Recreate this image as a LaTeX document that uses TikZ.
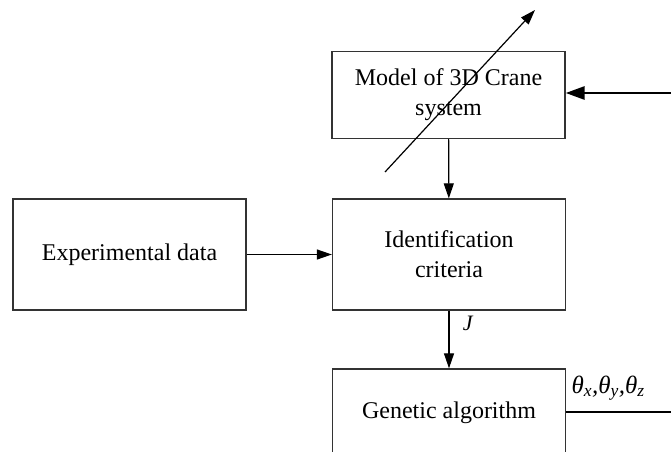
\documentclass[tikz,border=0pt]{standalone}
\usepackage{fontspec}
\setmainfont{Liberation Serif}
\usepackage{tikz}
\usetikzlibrary{arrows.meta,positioning}

\begin{document}
\begin{tikzpicture}[x=1pt,y=1pt,
  block/.style={draw=black!80,line width=1.3pt,minimum width=233pt,align=center,
    font=\fontsize{24}{30}\selectfont,inner sep=0pt},
  link/.style={line width=1.2pt,-{Triangle[length=15pt,width=10pt]}},
  feed/.style={line width=2.8pt,-{Triangle[length=19pt,width=13pt]}}]
\clip (0,0) rectangle (671,451);
\node[block,minimum height=87pt] (model) at (448.5,356) {Model of 3D Crane\\system};
\node[block,minimum height=111pt] (ident) at (449,196.5) {Identification\\criteria};
\node[block,minimum height=111pt] (expdata) at (129.5,196.5) {Experimental data};
\node[block,minimum height=88pt] (genetic) at (449,38) {Genetic algorithm};
\coordinate (feedin) at (671,358);
\coordinate (tunefrom) at (385,279);
\coordinate (tuneto) at (535,441);
\coordinate (paramout) at (671,39);
\draw[feed] (feedin) -- (feedin -| model.east);
\draw[link] (model) -- (ident);
\draw[link] (expdata) -- (ident);
\draw[link] (ident) -- node[pos=0.22,right=10pt,font=\fontsize{22}{22}\selectfont\itshape] {J} (genetic);
\draw[line width=1.2pt,-{Triangle[length=15pt,width=10pt]}] (tunefrom) -- (tuneto);
\draw[line width=2pt] (genetic.east |- paramout) -- node[above=7pt,pos=0.4,font=\fontsize{25}{25}\selectfont\itshape]
  {θ\textsubscript{x},θ\textsubscript{y},θ\textsubscript{z}} (paramout);
\end{tikzpicture}
\end{document}
